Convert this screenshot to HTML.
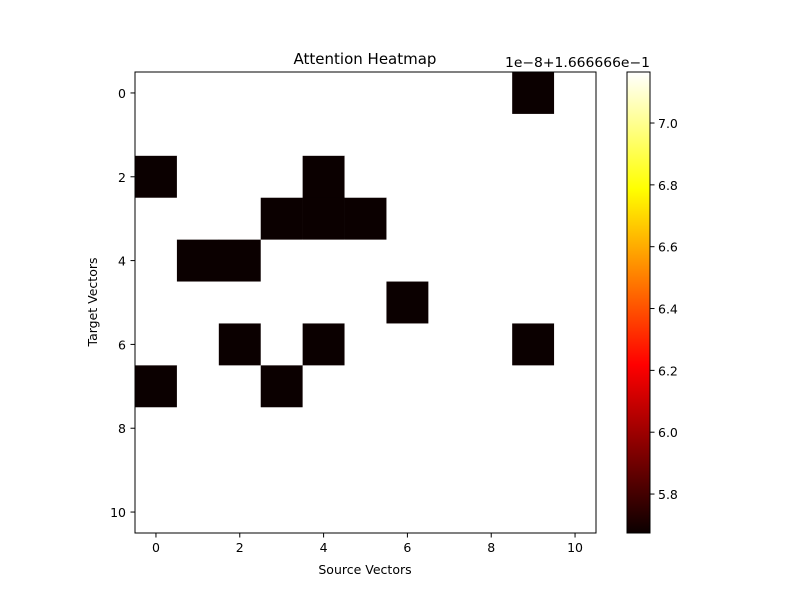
<!DOCTYPE html>
<html><head><meta charset="utf-8"><style>
body{margin:0;background:#fff;}
svg text{font-family:"DejaVu Sans","Liberation Sans",sans-serif;fill:#000;}
</style></head><body>
<svg id="chart" width="800" height="600" xmlns="http://www.w3.org/2000/svg">
<defs><linearGradient id="hot" x1="0" y1="1" x2="0" y2="0">
<stop offset="0" stop-color="#0b0000"/><stop offset="0.365" stop-color="#ff0000"/>
<stop offset="0.746" stop-color="#ffff00"/><stop offset="1" stop-color="#ffffff"/>
</linearGradient></defs>
<g id="cells"></g>
<rect x="135" y="72" width="461" height="461" fill="none" stroke="#000" stroke-width="1"/>
<g id="axes"></g>
<text x="365" y="64" font-size="15" text-anchor="middle">Attention Heatmap</text>
<text x="365" y="574" font-size="12.5" text-anchor="middle">Source Vectors</text>
<text x="97" y="302" font-size="12.5" text-anchor="middle" transform="rotate(-90 97 302)">Target Vectors</text>
<rect x="627" y="72" width="23" height="461" fill="url(#hot)" stroke="#000" stroke-width="1"/>
<text x="505" y="67" font-size="13" textLength="145" lengthAdjust="spacingAndGlyphs">1e−8+1.666666e−1</text>
<g id="cbticks"></g>
</svg>
<script>
const categories=[0,1,2,3,4,5,6,7,8,9,10];
const hi=7.165, lo=5.674;
const darkCells=[[0,9],[2,0],[2,4],[3,3],[3,4],[3,5],[4,1],[4,2],[5,6],[6,2],[6,4],[6,9],[7,0],[7,3]];
const values=categories.map(r=>categories.map(c=>darkCells.some(d=>d[0]===r&&d[1]===c)?lo:hi));
const xTicks=[0,2,4,6,8,10];
const yTicks=[0,2,4,6,8,10];
const cbTicks=[5.8,6.0,6.2,6.4,6.6,6.8,7.0];
const cbMin=5.674, cbMax=7.165;
const NS="http://www.w3.org/2000/svg";
const x0=135,y0=72,W=461,H=461,n=categories.length,cw=W/n,ch=H/n;
const xs=i=>x0+(i+0.5)*cw, ys=i=>y0+(i+0.5)*ch;
const cbY=v=>533-(v-cbMin)/(cbMax-cbMin)*461;
function hot(v){let t=(v-cbMin)/(cbMax-cbMin);t=Math.max(0,Math.min(1,t));
 const r=Math.min(1,0.0416+t/0.365*0.9584),g=Math.max(0,Math.min(1,(t-0.365)/0.381)),b=Math.max(0,Math.min(1,(t-0.746)/0.254));
 return `rgb(${Math.round(r*255)},${Math.round(g*255)},${Math.round(b*255)})`;}
function mk(tag,attrs,parent){const e=document.createElementNS(NS,tag);for(const k in attrs)e.setAttribute(k,attrs[k]);parent.appendChild(e);return e;}
const cells=document.getElementById('cells'),axes=document.getElementById('axes'),cbt=document.getElementById('cbticks');
values.forEach((row,r)=>row.forEach((v,c)=>{
 const e=mk('rect',{x:xs(c)-cw/2,y:ys(r)-ch/2,width:cw+0.3,height:ch+0.3,fill:hot(v)},cells);
 
 
}));
xTicks.forEach(t=>{const x=xs(t);
 const l=mk('line',{x1:x,x2:x,y1:533,y2:537.5,stroke:'#000'},axes);
 
 
 const tx=mk('text',{x:x,y:552,'font-size':12.5,'text-anchor':'middle'},axes);tx.textContent=t;
 
 
});
yTicks.forEach(t=>{const y=ys(t);
 const l=mk('line',{x1:130.5,x2:135,y1:y,y2:y,stroke:'#000'},axes);
 
 
 const tx=mk('text',{x:126,y:y+5,'font-size':12.5,'text-anchor':'end'},axes);tx.textContent=t;
 
 
});
cbTicks.forEach(t=>{const y=cbY(t);
 const l=mk('line',{x1:650,x2:654.5,y1:y,y2:y,stroke:'#000'},cbt);
 
 
 const tx=mk('text',{x:658,y:y+5,'font-size':12.5},cbt);tx.textContent=t.toFixed(1);
 
 
});
</script>
</body></html>
